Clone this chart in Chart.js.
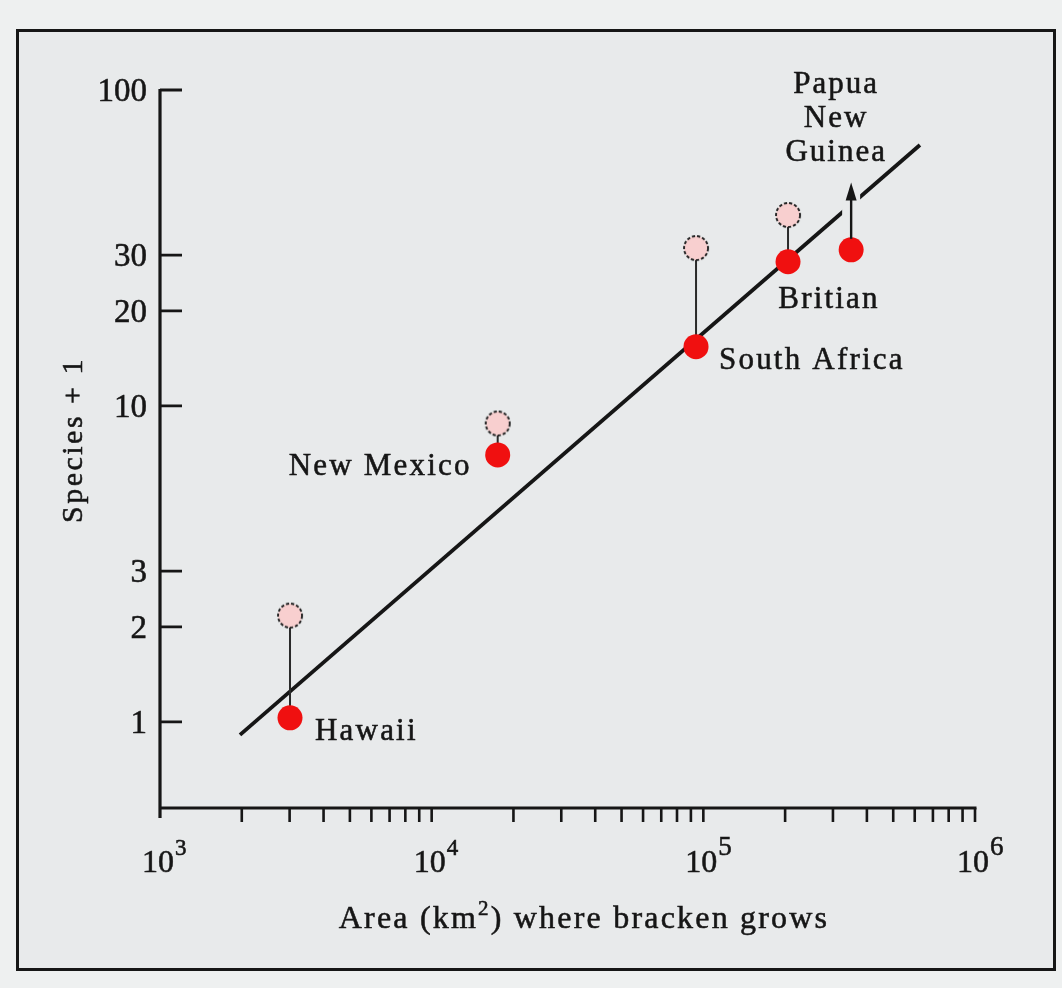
<!DOCTYPE html>
<html>
<head>
<meta charset="utf-8">
<title>Bracken insect species vs. area</title>
<script src="https://cdn.jsdelivr.net/npm/chart.js@4/dist/chart.umd.min.js"></script>
<style>
  html, body { margin: 0; padding: 0; background: #eef0f0; }
  canvas { display: block; }
</style>
</head>
<body>
<canvas id="chart" width="1062" height="988"></canvas>
<script>
// Insect species feeding on bracken (+1) against the area where bracken grows
const places = ['Hawaii', 'New Mexico', 'South Africa', 'Britian', 'Papua New Guinea'];
const areaKm2 = [3010, 17500, 94000, 205000, 350000];
const speciesPlusOne = [1.03, 7.0, 15.4, 28.6, 31.2];        // filled red points
const speciesUpper = [2.17, 8.8, 31.6, 40.2, null];          // open pink points
const pngLowerBoundTip = 51;                                 // arrow: value is a minimum
// fitted regression line (end points)
const fitArea = [1970, 627000];
const fitSpecies = [0.91, 67];
// axes
const xRange = [1000, 1000000];
const yRange = [0.534, 100];
const xLabelPowers = [3, 4, 5, 6];
const yTickValues = [1, 2, 3, 10, 20, 30, 100];
const yTickLabels = ['1', '2', '3', '10', '20', '30', '100'];
const xTitle = ['Area (km', '2', ') where bracken grows'];
const yTitle = 'Species + 1';

const INK = '#161616';
const PAPER = '#e8eaeb';
const SERIF = '"Liberation Serif", "Times New Roman", serif';

// open circle with a dotted rim, used as the point style of the pink series
function openCircle(r) {
  const c = document.createElement('canvas');
  const s = Math.ceil(r * 2 + 4);
  c.width = s; c.height = s;
  const g = c.getContext('2d');
  g.beginPath();
  g.arc(s / 2, s / 2, r, 0, Math.PI * 2);
  g.fillStyle = '#f8cfcf';
  g.fill();
  g.setLineDash([3.2, 2]);
  g.lineWidth = 1.9;
  g.strokeStyle = '#222';
  g.stroke();
  return c;
}

const connectorData = [];
areaKm2.forEach((a, i) => {
  if (speciesUpper[i] != null) {
    connectorData.push({ x: a, y: speciesUpper[i] }, { x: a, y: speciesPlusOne[i] }, { x: a, y: null });
  }
});

// label placement relative to each red point (pixels)
const labelLayout = [
  { dx: 25, dy: 22, align: 'left' },
  { dx: -26, dy: 20, align: 'right' },
  { dx: 23, dy: 22, align: 'left' },
  { dx: 41, dy: 46, align: 'center' },
  { dx: -15, dy: -157, align: 'center', lines: ['Papua', 'New', 'Guinea'], lineGap: 34 }
];

// fills a string with a faint outline so the serif face reads like printed ink
function text(ctx, str, x, y, font, align, spacing) {
  ctx.save();
  ctx.font = font;
  ctx.fillStyle = INK;
  ctx.strokeStyle = INK;
  ctx.lineWidth = 0.55;
  ctx.textBaseline = 'alphabetic';
  if ('letterSpacing' in ctx) ctx.letterSpacing = (spacing || 0) + 'px';
  const w = ctx.measureText(str).width;
  let left = x;
  if (align === 'center') left = x - w / 2;
  else if (align === 'right') left = x - w;
  ctx.textAlign = 'left';
  ctx.fillText(str, left, y);
  ctx.strokeText(str, left, y);
  ctx.restore();
  return w;
}

const figurePlugin = {
  id: 'figure',
  beforeDraw(chart) {
    const ctx = chart.ctx;
    ctx.save();
    ctx.fillStyle = '#eef0f0';
    ctx.fillRect(0, 0, chart.width, chart.height);
    ctx.fillStyle = PAPER;
    ctx.fillRect(17, 30, 1037, 939);
    ctx.lineWidth = 3;
    ctx.strokeStyle = INK;
    ctx.strokeRect(17.5, 30.5, 1037, 939);
    ctx.restore();
  },
  afterDatasetsDraw(chart) {
    const ctx = chart.ctx;
    const xs = chart.scales.x, ys = chart.scales.y;
    const a = chart.chartArea;

    // axes
    ctx.save();
    ctx.strokeStyle = INK;
    ctx.lineCap = 'butt';
    ctx.lineWidth = 3.2;
    ctx.beginPath();
    ctx.moveTo(a.left, a.top - 1);
    ctx.lineTo(a.left, a.bottom + 10);
    ctx.moveTo(a.left - 1.5, a.bottom);
    ctx.lineTo(a.right + 1.5, a.bottom);
    ctx.stroke();

    // y ticks point into the plot
    ctx.lineWidth = 2.8;
    ctx.beginPath();
    yTickValues.forEach(v => {
      const y = ys.getPixelForValue(v);
      ctx.moveTo(a.left, y);
      ctx.lineTo(a.left + 22, y);
    });
    ctx.stroke();
    yTickValues.forEach((v, i) => {
      const y = ys.getPixelForValue(v);
      text(ctx, yTickLabels[i], a.left - 13, y + 11, '33px ' + SERIF, 'right', 0);
    });

    // x ticks hang below the axis, one per 1..9 x 10^n
    ctx.lineWidth = 2.6;
    ctx.beginPath();
    for (let p = 3; p < 6; p++) {
      for (let k = 2; k <= 10; k++) {
        const x = xs.getPixelForValue(k * Math.pow(10, p));
        ctx.moveTo(x, a.bottom);
        ctx.lineTo(x, a.bottom + 14);
      }
    }
    ctx.stroke();
    xLabelPowers.forEach(p => {
      const x = xs.getPixelForValue(Math.pow(10, p));
      const w = text(ctx, '10', x - 2, a.bottom + 64, '32px ' + SERIF, 'center', 0);
      text(ctx, String(p), x - 2 + w / 2 + 1, a.bottom + 47, p >= 5 ? '27px ' + SERIF : '23px ' + SERIF, 'left', 0);
    });

    // x title with superscript
    const titleFont = '32px ' + SERIF, supFont = '21px ' + SERIF, titleSp = 2.2;
    ctx.font = titleFont;
    if ('letterSpacing' in ctx) ctx.letterSpacing = titleSp + 'px';
    const w0 = ctx.measureText(xTitle[0]).width;
    const w2 = ctx.measureText(xTitle[2]).width;
    ctx.font = supFont;
    const w1 = ctx.measureText(xTitle[1]).width;
    if ('letterSpacing' in ctx) ctx.letterSpacing = '0px';
    const total = w0 + w1 + w2;
    let tx = 584 - total / 2;
    const ty = a.bottom + 120;
    text(ctx, xTitle[0], tx, ty, titleFont, 'left', titleSp); tx += w0;
    text(ctx, xTitle[1], tx, ty - 13, supFont, 'left', titleSp); tx += w1;
    text(ctx, xTitle[2], tx, ty, titleFont, 'left', titleSp);

    // y title, reading upward
    ctx.save();
    ctx.translate(82, 440);
    ctx.rotate(-Math.PI / 2);
    text(ctx, yTitle, 0, 0, '30px ' + SERIF, 'center', 2.5);
    ctx.restore();

    // arrow from the Papua New Guinea point: value is a lower bound
    const i = places.length - 1;
    const px = xs.getPixelForValue(areaKm2[i]);
    const py = ys.getPixelForValue(speciesPlusOne[i]);
    const tip = ys.getPixelForValue(pngLowerBoundTip);
    ctx.strokeStyle = PAPER;
    ctx.lineWidth = 18;
    ctx.beginPath();
    ctx.moveTo(px, tip + 8);
    ctx.lineTo(px, py - 16);
    ctx.stroke();
    ctx.strokeStyle = INK;
    ctx.lineWidth = 2.4;
    ctx.beginPath();
    ctx.moveTo(px, py - 11);
    ctx.lineTo(px, tip + 10);
    ctx.stroke();
    ctx.fillStyle = INK;
    ctx.beginPath();
    ctx.moveTo(px, tip);
    ctx.lineTo(px - 5.5, tip + 18);
    ctx.lineTo(px + 5.5, tip + 18);
    ctx.closePath();
    ctx.fill();

    // place names
    places.forEach((name, j) => {
      const L = labelLayout[j];
      const x = xs.getPixelForValue(areaKm2[j]) + L.dx;
      const y = ys.getPixelForValue(speciesPlusOne[j]) + L.dy;
      if (L.lines) {
        L.lines.forEach((ln, k) => text(ctx, ln, x, y + k * L.lineGap, '31px ' + SERIF, L.align, 2));
      } else {
        text(ctx, name, x, y, '31px ' + SERIF, L.align, 2.2);
      }
    });
    ctx.restore();
  }
};

new Chart(document.getElementById('chart'), {
  type: 'scatter',
  data: {
    datasets: [
      {
        label: 'fit',
        data: fitArea.map((x, i) => ({ x, y: fitSpecies[i] })),
        showLine: true,
        borderColor: INK,
        borderWidth: 3.8,
        pointRadius: 0,
        order: 3
      },
      {
        label: 'range',
        data: connectorData,
        showLine: true,
        spanGaps: false,
        borderColor: '#2a2a2a',
        borderWidth: 2,
        pointRadius: 0,
        order: 2
      },
      {
        label: 'upper',
        data: areaKm2.map((x, i) => ({ x, y: speciesUpper[i] })).filter(d => d.y != null),
        pointStyle: openCircle(12),
        pointRadius: 12,
        order: 1
      },
      {
        label: 'species + 1',
        data: areaKm2.map((x, i) => ({ x, y: speciesPlusOne[i] })),
        backgroundColor: '#f01010',
        borderColor: '#e41010',
        borderWidth: 0,
        pointRadius: 12.5,
        order: 0
      }
    ]
  },
  options: {
    responsive: false,
    devicePixelRatio: 1,
    animation: false,
    layout: { padding: { left: 160, right: 87, top: 90, bottom: 180 } },
    scales: {
      x: { type: 'logarithmic', min: xRange[0], max: xRange[1], display: false },
      y: { type: 'logarithmic', min: yRange[0], max: yRange[1], display: false }
    },
    plugins: { legend: { display: false }, tooltip: { enabled: false } },
    events: []
  },
  plugins: [figurePlugin]
});
</script>
</body>
</html>
